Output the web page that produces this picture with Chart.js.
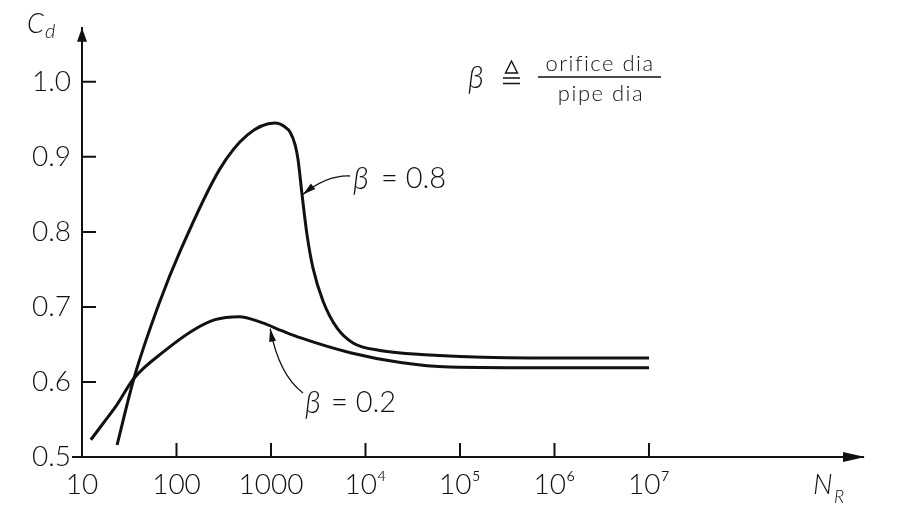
<!DOCTYPE html>
<html lang="en">
<head>
<meta charset="UTF-8">
<title>Orifice discharge coefficient</title>
<script src="https://cdn.jsdelivr.net/npm/chart.js@4.4.1/dist/chart.umd.min.js"></script>
<style>
    html, body { margin: 0; padding: 0; background: #fff; }
    #wrap { width: 897px; height: 508px; }
</style>
</head>
<body>
<div id="wrap"><canvas id="cdChart" width="897" height="508"></canvas></div>
<script>
    // axis ticks
    const xTicks = [10, 100, 1000, 1e4, 1e5, 1e6, 1e7];
    const xTickLabels = ['10', '100', '1000', '10⁴', '10⁵', '10⁶', '10⁷'];
    const yTicks = [0.5, 0.6, 0.7, 0.8, 0.9, 1.0];
    const yTickLabels = ['0.5', '0.6', '0.7', '0.8', '0.9', '1.0'];

    // beta = 0.8 (Reynolds number, Cd)
    const re08 = [23.5, 35.5, 67, 109, 288, 560, 1100, 1400, 1590, 1800, 1930, 2130, 2400, 2780, 3550, 4990, 7380, 14200, 48000, 1e5, 1e6, 1e7];
    const cd08 = [0.516, 0.605, 0.708, 0.774, 0.884, 0.929, 0.945, 0.940, 0.933, 0.916, 0.897, 0.850, 0.797, 0.752, 0.708, 0.672, 0.652, 0.642, 0.636, 0.634, 0.632, 0.632];

    // beta = 0.2
    const re02 = [12.4, 17, 22.4, 35.5, 76, 146, 256, 460, 800, 1320, 2030, 6900, 23500, 77000, 1e6, 1e7];
    const cd02 = [0.523, 0.546, 0.566, 0.605, 0.642, 0.668, 0.683, 0.687, 0.679, 0.668, 0.659, 0.639, 0.626, 0.620, 0.619, 0.619];

    const INK = '#111';
    const FONT = 'Lato, "Noto Sans", "DejaVu Sans", sans-serif';

    function toPoints(xs, ys) {
        return xs.map((v, i) => ({ x: v, y: ys[i] }));
    }

    function arrowHead(ctx, tipX, tipY, dx, dy, len, half) {
        const n = Math.hypot(dx, dy);
        const ux = dx / n, uy = dy / n;
        const bx = tipX - ux * len, by = tipY - uy * len;
        ctx.beginPath();
        ctx.moveTo(tipX, tipY);
        ctx.lineTo(bx - uy * half, by + ux * half);
        ctx.lineTo(bx + uy * half, by - ux * half);
        ctx.closePath();
        ctx.fill();
    }

    // curved pointer from a label to a spot on a curve
    function pointer(ctx, from, ctrl, tip) {
        ctx.beginPath();
        ctx.lineWidth = 1.3;
        ctx.moveTo(from[0], from[1]);
        ctx.quadraticCurveTo(ctrl[0], ctrl[1], tip[0], tip[1]);
        ctx.stroke();
        arrowHead(ctx, tip[0], tip[1], tip[0] - ctrl[0], tip[1] - ctrl[1], 13, 3.5);
    }

    const decorations = {
        id: 'decorations',
        afterDraw(chart) {
            const { ctx, chartArea: a, scales: { x, y } } = chart;
            ctx.save();
            ctx.strokeStyle = INK;
            ctx.fillStyle = INK;

            // inward tick marks
            ctx.lineWidth = 2;
            ctx.beginPath();
            yTicks.slice(1).forEach(v => {
                const py = y.getPixelForValue(v);
                ctx.moveTo(a.left, py);
                ctx.lineTo(a.left + 14, py);
            });
            xTicks.slice(1).forEach(v => {
                const px = x.getPixelForValue(v);
                ctx.moveTo(px, a.bottom);
                ctx.lineTo(px, a.bottom - 14);
            });
            ctx.moveTo(a.left - 10, a.bottom);
            ctx.lineTo(a.left, a.bottom);
            ctx.stroke();

            // axis arrows
            arrowHead(ctx, a.left, a.top, 0, -1, 14, 5);
            arrowHead(ctx, a.right + 2, a.bottom, 1, 0, 22, 5);

            // axis names
            ctx.textBaseline = 'alphabetic';
            ctx.textAlign = 'left';
            ctx.font = 'italic 300 27px ' + FONT;
            ctx.fillText('C', 27, 33);
            ctx.font = 'italic 300 20px ' + FONT;
            ctx.fillText('d', 45, 38);
            ctx.font = 'italic 300 28px ' + FONT;
            ctx.fillText('N', 813, 494);
            ctx.font = 'italic 300 18px ' + FONT;
            ctx.fillText('R', 834, 503);

            // definition of beta: β ≜ orifice dia / pipe dia
            ctx.font = 'italic 300 31px ' + FONT;
            ctx.fillText('β', 468, 88);
            ctx.lineWidth = 1.4;
            ctx.beginPath();
            ctx.moveTo(511.5, 61);
            ctx.lineTo(505.5, 73);
            ctx.lineTo(517.5, 73);
            ctx.closePath();
            ctx.moveTo(503, 78);
            ctx.lineTo(520, 78);
            ctx.moveTo(503, 83.5);
            ctx.lineTo(520, 83.5);
            ctx.stroke();
            ctx.font = '300 22px ' + FONT;
            ctx.letterSpacing = '1.5px';
            ctx.textAlign = 'center';
            ctx.fillText('orifice dia', 600, 71);
            ctx.fillText('pipe dia', 601, 101);
            ctx.letterSpacing = '0px';
            ctx.lineWidth = 1.5;
            ctx.beginPath();
            ctx.moveTo(538, 77);
            ctx.lineTo(661, 77);
            ctx.stroke();

            // curve labels
            ctx.textAlign = 'left';
            ctx.font = 'italic 300 31px ' + FONT;
            ctx.fillText('β', 353, 189);
            ctx.fillText('β', 305, 413);
            ctx.font = '300 29px ' + FONT;
            ctx.fillText('= 0.8', 381, 188);
            ctx.fillText('= 0.2', 331, 412);

            // pointers, tips on the curves
            const tip08 = [x.getPixelForValue(2180), y.getPixelForValue(0.85)];
            const tip02 = [x.getPixelForValue(980), y.getPixelForValue(0.671)];
            pointer(ctx, [350, 176], [327, 175], tip08);
            pointer(ctx, [303, 393], [279, 375], tip02);

            ctx.restore();
        }
    };

    const ctx = document.getElementById('cdChart').getContext('2d');
    new Chart(ctx, {
        type: 'line',
        data: {
            datasets: [{
                label: 'β = 0.8',
                data: toPoints(re08, cd08),
                borderColor: INK,
                borderWidth: 3,
                pointRadius: 0,
                cubicInterpolationMode: 'monotone',
                fill: false
            }, {
                label: 'β = 0.2',
                data: toPoints(re02, cd02),
                borderColor: INK,
                borderWidth: 3,
                pointRadius: 0,
                cubicInterpolationMode: 'monotone',
                fill: false
            }]
        },
        options: {
            responsive: false,
            animation: false,
            layout: { padding: { left: 0, top: 25, right: 34, bottom: 0 } },
            plugins: {
                legend: { display: false },
                tooltip: { enabled: false }
            },
            scales: {
                x: {
                    type: 'logarithmic',
                    min: 10,
                    max: 1.84e9,
                    afterBuildTicks: s => { s.ticks = xTicks.map(v => ({ value: v })); },
                    afterFit: s => { s.height = 51; },
                    grid: { display: false, drawTicks: false },
                    border: { color: INK, width: 2 },
                    ticks: {
                        autoSkip: false,
                        maxRotation: 0,
                        padding: 11,
                        color: INK,
                        font: { family: FONT, size: 28, weight: 300 },
                        callback: v => xTickLabels[xTicks.indexOf(v)]
                    }
                },
                y: {
                    type: 'linear',
                    min: 0.5,
                    max: 1.072,
                    afterBuildTicks: s => { s.ticks = yTicks.map(v => ({ value: v })); },
                    afterFit: s => { s.width = 82; },
                    grid: { display: false, drawTicks: false },
                    border: { color: INK, width: 2 },
                    ticks: {
                        padding: 11,
                        color: INK,
                        font: { family: FONT, size: 28, weight: 300 },
                        callback: v => yTickLabels[yTicks.findIndex(t => Math.abs(t - v) < 1e-9)]
                    }
                }
            }
        },
        plugins: [decorations]
    });
</script>
</body>
</html>
